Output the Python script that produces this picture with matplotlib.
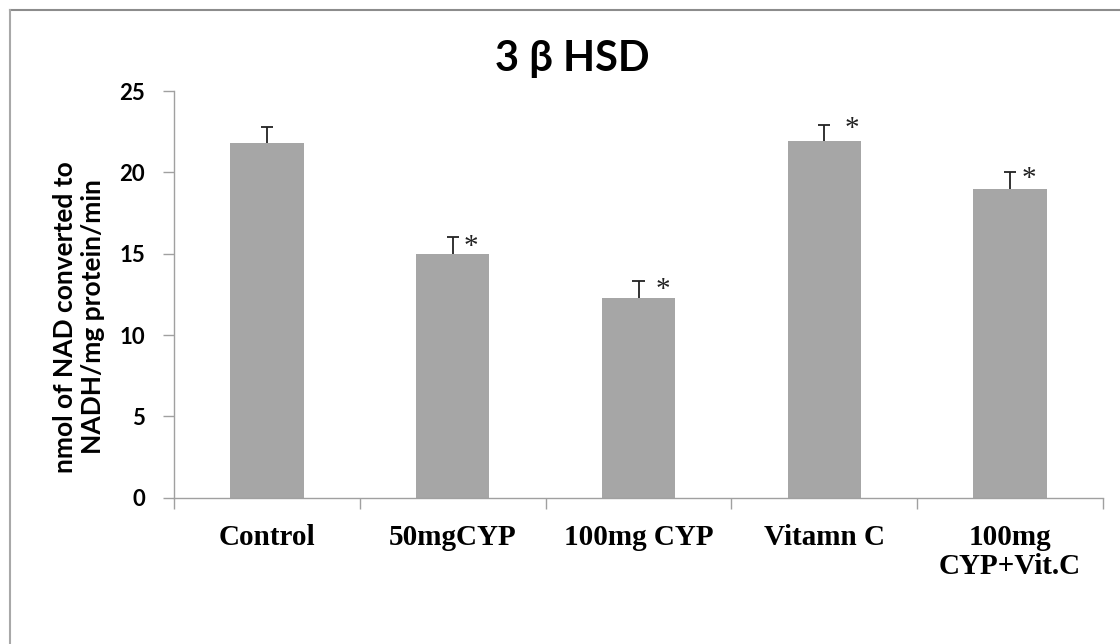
import matplotlib
matplotlib.use("Agg")
import matplotlib.pyplot as plt
from matplotlib.lines import Line2D

categories = ["Control", "50mgCYP", "100mg CYP", "Vitamn C", "100mg\nCYP+Vit.C"]
values = [21.8, 15.0, 12.3, 21.9, 19.0]
errors = [1.0, 1.0, 1.0, 1.0, 1.0]
significant = [False, True, True, True, True]
star_offsets = [0.0, 0.10, 0.13, 0.15, 0.10]
star_heights = [0.0, 15.4, 12.75, 22.65, 19.6]
yticks = [0, 5, 10, 15, 20, 25]

W, H = 1120, 644
fig = plt.figure(figsize=(W / 100, H / 100), dpi=100)
ax = fig.add_axes([174 / W, 1 - 497.7 / H, (1103 - 174) / W, (497.7 - 91) / H])

x = list(range(len(categories)))
ax.bar(x, values, width=0.396, color="#a6a6a6", zorder=2)
tops = [v + e for v, e in zip(values, errors)]
cap = 0.033
ax.vlines(x, values, tops, color="#222222", lw=1.3, zorder=3)
ax.hlines(tops, [i - cap for i in x], [i + cap for i in x], color="#222222", lw=1.3, zorder=3)

for i in x:
    if significant[i]:
        ax.text(i + star_offsets[i], star_heights[i], "*", ha="center", va="center",
                fontsize=21, family="Liberation Serif", color="#222222", zorder=4)

ax.set_xlim(-0.5, len(categories) - 0.5)
ax.set_ylim(0, 25)
ax.set_yticks(yticks)
ax.set_yticklabels([str(t) for t in yticks], fontsize=16, fontweight="bold", family="Lato")
ax.tick_params(axis="y", direction="out", length=8, width=1, color="#a0a0a0", pad=13)

ax.set_xticks([i - 0.5 for i in range(len(categories) + 1)])
ax.set_xticklabels([])
ax.tick_params(axis="x", direction="out", length=8, width=1, color="#a0a0a0")
for i, c in enumerate(categories):
    ax.text(i, -1.6, c, ha="center", va="top", fontsize=21, fontweight="bold",
            family="Liberation Serif", linespacing=1.1)

for s in ["top", "right"]:
    ax.spines[s].set_visible(False)
for s in ["left", "bottom"]:
    ax.spines[s].set_color("#a0a0a0")
    ax.spines[s].set_linewidth(1)

fig.text(79 / W, 1 - 317 / H, "nmol of NAD converted to\nNADH/mg protein/min",
         rotation=90, ha="center", va="center", fontsize=19, fontweight="bold",
         family="Lato", linespacing=1.2)

fig.text(572 / W, 1 - 59 / H, "3 β HSD", ha="center", va="center",
         fontsize=30, fontweight="bold", family="Lato")

# outer chart border (top and left visible)
fig.add_artist(Line2D([9.5 / W, 1.0], [1 - 9.5 / H] * 2, color="#8c8c8c", lw=1.5,
                      transform=fig.transFigure))
fig.add_artist(Line2D([9.5 / W] * 2, [0, 1 - 9.5 / H], color="#a8a8a8", lw=1.5,
                      transform=fig.transFigure))

fig.savefig("out.png", dpi=100)
